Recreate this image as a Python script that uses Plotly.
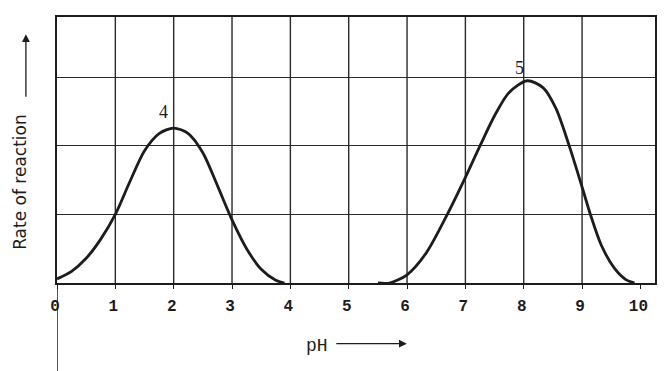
import plotly.graph_objects as go

# enzyme 4 readings (rate vs pH)
ph_4 = [0.0, 0.25, 0.5, 0.75, 1.0, 1.25, 1.5, 1.75, 2.0, 2.25, 2.5, 2.75, 3.0, 3.25, 3.5, 3.75, 3.9]
rate_4 = [0.06, 0.17, 0.36, 0.64, 1.0, 1.48, 1.93, 2.18, 2.26, 2.18, 1.9, 1.42, 0.92, 0.5, 0.2, 0.04, 0.0]

# enzyme 5 readings
ph_5 = [5.5, 5.7, 6.0, 6.33, 6.69, 7.0, 7.25, 7.5, 7.75, 8.06, 8.33, 8.55, 8.78, 9.0, 9.15, 9.33, 9.55, 9.75, 9.9]
rate_5 = [0.0, 0.0, 0.12, 0.44, 1.0, 1.54, 2.0, 2.44, 2.78, 2.95, 2.85, 2.55, 2.0, 1.4, 0.98, 0.55, 0.22, 0.05, 0.0]

ph_ticks = [0, 1, 2, 3, 4, 5, 6, 7, 8, 9, 10]
grid_x = [1, 2, 3, 4, 5, 6, 7, 8, 9]

INK = "#1c1c1c"
SERIF = "Liberation Serif"
MONO = "Liberation Mono"

fig = go.Figure()
for xs, ys in [(ph_4, rate_4), (ph_5, rate_5)]:
    fig.add_trace(
        go.Scatter(
            x=xs,
            y=ys,
            mode="lines",
            line=dict(color=INK, width=2.8, shape="spline", smoothing=0.8),
            showlegend=False,
            hoverinfo="skip",
        )
    )

shapes = []
for gx in grid_x:
    shapes.append(
        dict(type="line", xref="x", yref="paper", x0=gx, x1=gx, y0=0, y1=1,
             line=dict(color="#2a2a2a", width=1.4), layer="below")
    )
# left border runs on below the axis
shapes.append(
    dict(type="line", xref="x", yref="paper", x0=0, x1=0, y0=-0.35, y1=0,
         line=dict(color=INK, width=1.5))
)

annotations = [
    dict(x=1.82, y=2.5, xref="x", yref="y", text="4", showarrow=False,
         xanchor="center", yanchor="middle",
         font=dict(family=SERIF, size=18, color=INK)),
    dict(x=7.93, y=3.13, xref="x", yref="y", text="5", showarrow=False,
         xanchor="center", yanchor="middle",
         font=dict(family=SERIF, size=18, color=INK)),
    dict(x=-0.062, y=0.38, xref="paper", yref="paper", text="Rate of reaction",
         textangle=-90, showarrow=False, xanchor="center", yanchor="middle",
         font=dict(family="DejaVu Sans", size=17, color=INK)),
    dict(x=-0.052, y=0.935, xref="paper", yref="paper", text="", showarrow=True,
         ax=0, ay=64, arrowhead=2, arrowsize=1.2, arrowwidth=1.3, arrowcolor=INK),
    dict(x=0.435, y=-0.235, xref="paper", yref="paper", text="pH", showarrow=False,
         xanchor="center", yanchor="middle",
         font=dict(family=MONO, size=18, color=INK)),
    dict(x=0.585, y=-0.228, xref="paper", yref="paper", text="", showarrow=True,
         ax=-72, ay=0, arrowhead=2, arrowsize=1.2, arrowwidth=1.3, arrowcolor=INK),
]

# the page body has an 8px margin, so the figure is 8px smaller each way
fig.update_layout(
    width=661,
    height=363,
    margin=dict(l=49, r=14, t=7, b=88),
    plot_bgcolor="white",
    paper_bgcolor="white",
    shapes=shapes,
    annotations=annotations,
    xaxis=dict(
        range=[0, 10.25],
        tickvals=ph_ticks,
        ticktext=[str(v) for v in ph_ticks],
        showgrid=False,
        zeroline=False,
        showline=True,
        mirror=True,
        linecolor=INK,
        linewidth=2,
        ticks="outside",
        ticklen=4,
        tickcolor=INK,
        ticklabelstandoff=3,
        ticklabelshift=-2,
        tickfont=dict(family=MONO, size=16, color=INK, weight="bold"),
    ),
    yaxis=dict(
        range=[0, 3.88],
        dtick=1,
        showgrid=True,
        gridcolor="#2a2a2a",
        gridwidth=1.4,
        zeroline=False,
        showline=True,
        mirror=True,
        linecolor=INK,
        linewidth=2,
        showticklabels=False,
        ticks="",
    ),
)

fig.write_html("out.html")
